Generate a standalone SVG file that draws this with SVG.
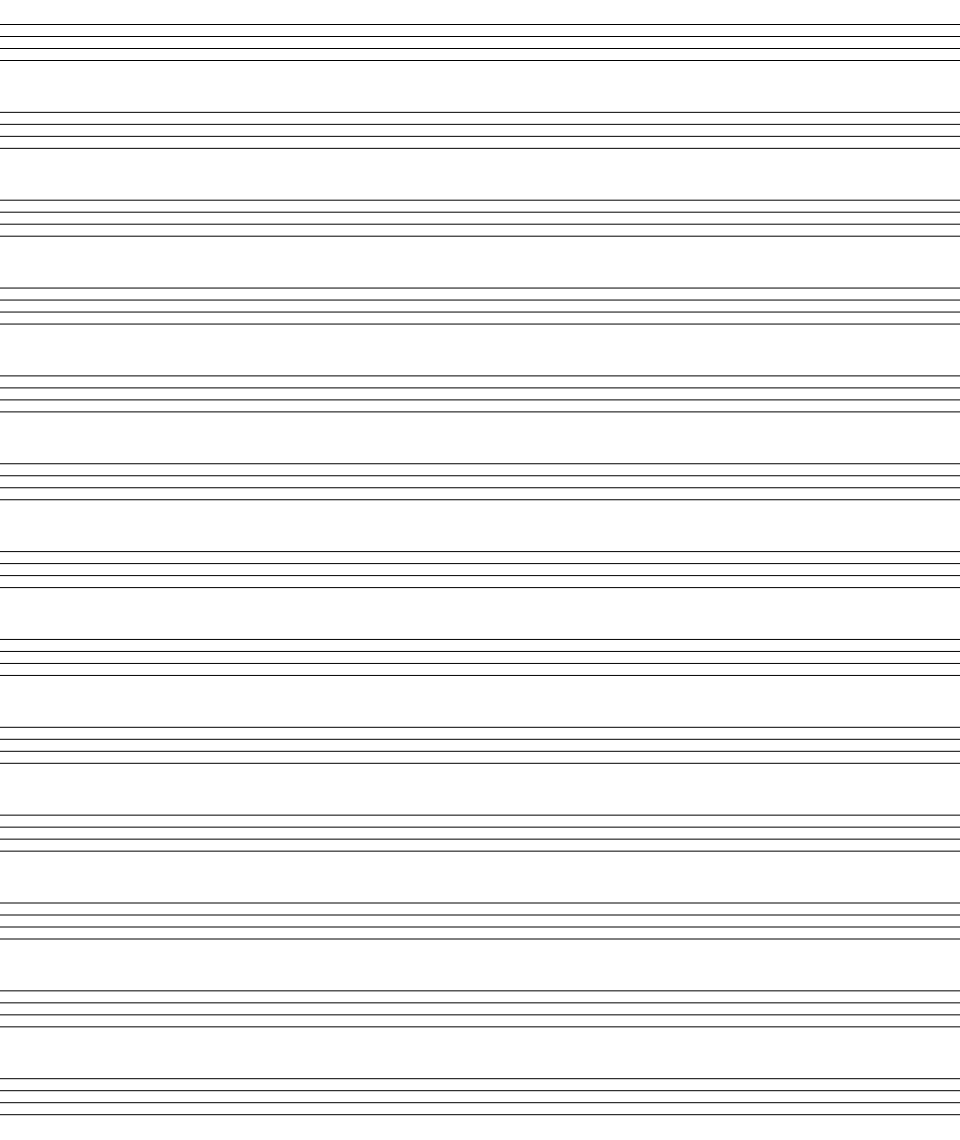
<svg xmlns="http://www.w3.org/2000/svg" width="960" height="1140" viewBox="0 0 960 1140">
<style>
.l{stroke:#000;stroke-width:1;fill:none}
</style>
<defs>
<g id="staff">
<line class="l" x1="0" y1="0" x2="960" y2="0"/>
<line class="l" x1="0" y1="12" x2="960" y2="12"/>
<line class="l" x1="0" y1="24" x2="960" y2="24"/>
<line class="l" x1="0" y1="36" x2="960" y2="36"/>
</g>
</defs>
<rect width="960" height="1140" fill="#fff"/>
<g id="staves">
<use id="staff1" href="#staff" y="24.5"/>
<use id="staff2" href="#staff" y="112.35"/>
<use id="staff3" href="#staff" y="200.2"/>
<use id="staff4" href="#staff" y="288.05"/>
<use id="staff5" href="#staff" y="375.9"/>
<use id="staff6" href="#staff" y="463.75"/>
<use id="staff7" href="#staff" y="551.6"/>
<use id="staff8" href="#staff" y="639.45"/>
<use id="staff9" href="#staff" y="727.3"/>
<use id="staff10" href="#staff" y="815.15"/>
<use id="staff11" href="#staff" y="903"/>
<use id="staff12" href="#staff" y="990.85"/>
<use id="staff13" href="#staff" y="1078.7"/>
</g>
</svg>
